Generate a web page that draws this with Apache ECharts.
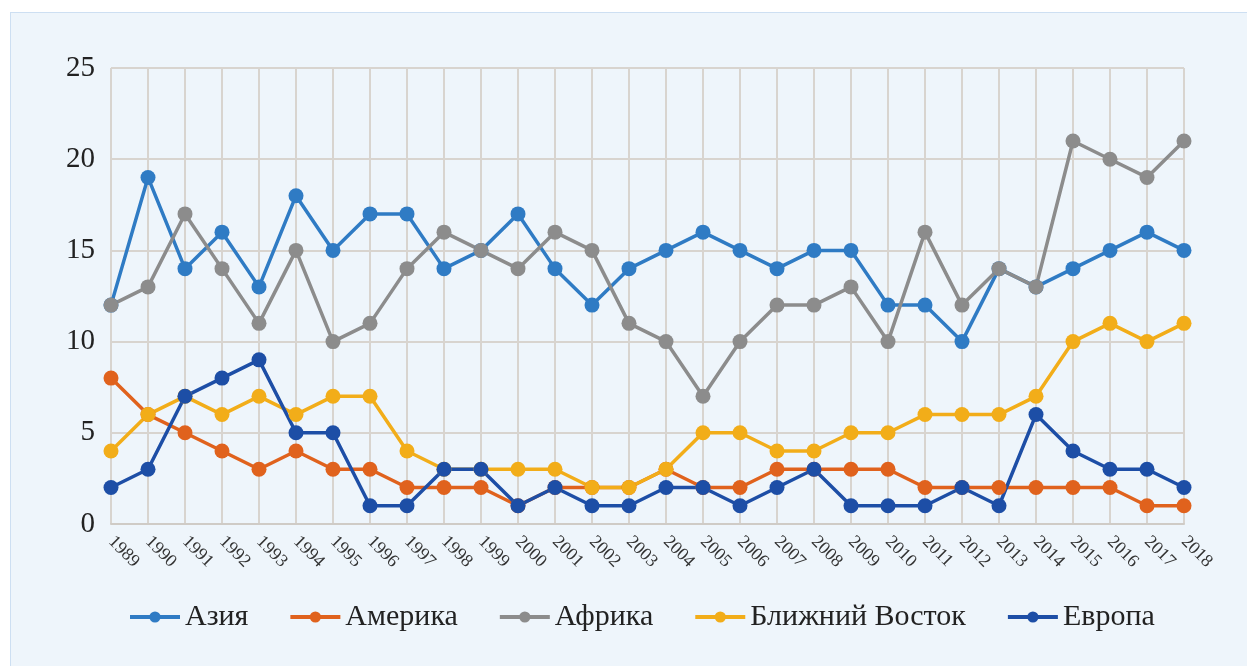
<!DOCTYPE html>
<html>
<head>
<meta charset="utf-8">
<script src="https://cdn.jsdelivr.net/npm/echarts@6/dist/echarts.min.js"></script>
<style>
  html, body { margin: 0; padding: 0; background: #ffffff; }
  #chart {
    position: absolute; left: 10px; top: 12px;
    width: 1236px; height: 653px;
    border: 1px solid #cddff2; background: #eef5fb;
  }
</style>
</head>
<body>
<div id="chart"></div>
<script>
var years = ['1989','1990','1991','1992','1993','1994','1995','1996','1997','1998','1999','2000','2001','2002','2003',
             '2004','2005','2006','2007','2008','2009','2010','2011','2012','2013','2014','2015','2016','2017','2018'];
var asia       = [12,19,14,16,13,18,15,17,17,14,15,17,14,12,14,15,16,15,14,15,15,12,12,10,14,13,14,15,16,15];
var america    = [8,6,5,4,3,4,3,3,2,2,2,1,2,2,2,3,2,2,3,3,3,3,2,2,2,2,2,2,1,1];
var africa     = [12,13,17,14,11,15,10,11,14,16,15,14,16,15,11,10,7,10,12,12,13,10,16,12,14,13,21,20,19,21];
var middleEast = [4,6,7,6,7,6,7,7,4,3,3,3,3,2,2,3,5,5,4,4,5,5,6,6,6,7,10,11,10,11];
var europe     = [2,3,7,8,9,5,5,1,1,3,3,1,2,1,1,2,2,1,2,3,1,1,1,2,1,6,4,3,3,2];

var seriesNames = ['Азия', 'Америка', 'Африка', 'Ближний Восток', 'Европа'];
var seriesData = [asia, america, africa, middleEast, europe];
var colors = ['#2f7bc4', '#e0621d', '#8c8c8c', '#f2ad19', '#1d4ea6'];

var font = '"Liberation Serif", "DejaVu Serif", serif';

var chart = echarts.init(document.getElementById('chart'));

var series = [];
for (var i = 0; i < seriesNames.length; i++) {
    series.push({
        name: seriesNames[i],
        type: 'line',
        data: seriesData[i],
        symbol: 'circle',
        symbolSize: 15,
        lineStyle: { width: 3.5 },
        emphasis: { disabled: true }
    });
}

chart.setOption({
    color: colors,
    animation: false,
    grid: {
        left: 100,
        right: 63,
        top: 55,
        bottom: 142
    },
    legend: {
        data: seriesNames,
        top: 584,
        left: 112,
        itemWidth: 50,
        itemHeight: 14,
        itemGap: 40,
        lineStyle: { width: 4 },
        textStyle: {
            fontFamily: font,
            fontSize: 30,
            color: '#222'
        }
    },
    xAxis: {
        type: 'category',
        data: years,
        boundaryGap: false,
        axisLine: { lineStyle: { color: '#cfcbc6', width: 2 } },
        axisTick: { show: false },
        splitLine: { show: true, lineStyle: { color: '#d8d4cf', width: 2 } },
        axisLabel: {
            interval: 0,
            rotate: -45,
            margin: 15,
            fontFamily: font,
            fontSize: 18,
            color: '#333'
        }
    },
    yAxis: {
        type: 'value',
        min: 0,
        max: 25,
        interval: 5,
        axisLine: { show: false },
        axisTick: { show: false },
        splitLine: { lineStyle: { color: '#d8d4cf', width: 2 } },
        axisLabel: {
            margin: 16,
            fontFamily: font,
            fontSize: 29,
            color: '#222'
        }
    },
    series: series
});
</script>
</body>
</html>
